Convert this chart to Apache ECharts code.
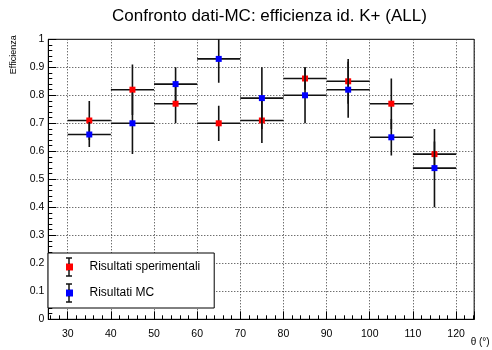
<!DOCTYPE html>
<html><head><meta charset="utf-8">
<script src="https://cdn.jsdelivr.net/npm/echarts@6/dist/echarts.min.js"></script>
<style>html,body{margin:0;padding:0;background:#fff}#c{width:492px;height:350px}</style>
</head><body><div id="c"></div>
<script>
// ---- data ----
const binCenters   = [35, 45, 55, 65, 75, 85, 95, 105, 115];
const binHalfWidth = [5, 5, 5, 5, 5, 5, 5, 5, 5];
const expValues = [0.71, 0.82, 0.77, 0.70, 0.71, 0.86, 0.85, 0.77, 0.59];
const expErrors = [0.07, 0.09, 0.07, 0.063, 0.08, 0.04, 0.08, 0.09, 0.045];
const mcValues  = [0.66, 0.70, 0.84, 0.93, 0.79, 0.80, 0.82, 0.65, 0.54];
const mcErrors  = [0.045, 0.11, 0.06, 0.085, 0.11, 0.10, 0.10, 0.065, 0.14];
const xTickLabels = ['30','40','50','60','70','80','90','100','110','120'];
const yTickLabels = ['0','0.1','0.2','0.3','0.4','0.5','0.6','0.7','0.8','0.9','1'];
const seriesNames = ['Risultati sperimentali', 'Risultati MC'];
const titleText = 'Confronto dati-MC: efficienza id. K+ (ALL)';

const FONT = 'Liberation Sans';
const chart = echarts.init(document.getElementById('c'), null, {renderer: 'canvas'});

function errData(vals, errs) {
  return binCenters.map((c, i) => [c, vals[i], binHalfWidth[i], errs[i]]);
}
function renderErr(params, api) {
  const x = api.value(0), y = api.value(1), ex = api.value(2), ey = api.value(3);
  const t = api.coord([x, y + ey]), b = api.coord([x, y - ey]);
  const l = api.coord([x - ex, y]), r = api.coord([x + ex, y]);
  const st = {stroke: '#111', lineWidth: 1.6};
  return {type: 'group', children: [
    {type: 'line', shape: {x1: t[0], y1: t[1], x2: b[0], y2: b[1]}, style: st},
    {type: 'line', shape: {x1: l[0], y1: l[1], x2: r[0], y2: r[1]}, style: st}
  ]};
}
const squarePath = 'path://M0,0L10,0L10,10L0,10Z';

const legendBeam = (cy) => [
  {type: 'line', z: 100, shape: {x1: 69, y1: cy - 9, x2: 69, y2: cy - 3}, style: {stroke: '#111', lineWidth: 1.5}},
  {type: 'line', z: 100, shape: {x1: 69, y1: cy + 3, x2: 69, y2: cy + 9}, style: {stroke: '#111', lineWidth: 1.5}},
  {type: 'line', z: 100, shape: {x1: 66, y1: cy - 9, x2: 72, y2: cy - 9}, style: {stroke: '#111', lineWidth: 1.5}},
  {type: 'line', z: 100, shape: {x1: 66, y1: cy + 9, x2: 72, y2: cy + 9}, style: {stroke: '#111', lineWidth: 1.5}}
];

const option = {
  animation: false,
  backgroundColor: '#fff',
  textStyle: {fontFamily: FONT},
  title: {
    text: titleText, left: 107, top: 3,
    textStyle: {fontFamily: FONT, fontSize: 17, fontWeight: 'normal', color: '#000'}
  },
  grid: {left: 48.3, right: 1.3, top: 39.3, bottom: 30.7, show: true, borderColor: '#000', borderWidth: 1, backgroundColor: '#fff'},
  legend: {
    orient: 'vertical', left: 48, top: 253,
    data: seriesNames.map(n => ({name: n, icon: squarePath})),
    itemWidth: 30, itemHeight: 7, itemGap: 12,
    padding: [7, 14, 8, 18],
    backgroundColor: '#fff', borderColor: '#000', borderWidth: 1, borderRadius: 0,
    textStyle: {fontFamily: FONT, fontSize: 12, color: '#000', lineHeight: 14}
  },
  graphic: legendBeam(267).concat(legendBeam(293)),
  xAxis: {
    type: 'value', min: 25.5, max: 124.2, splitNumber: 10,
    name: 'θ (°)', nameLocation: 'end', nameGap: 0,
    nameTextStyle: {fontFamily: FONT, fontSize: 10, color: '#000', align: 'right', verticalAlign: 'top', padding: [18, 0, 0, 0]},
    axisLine: {show: true, lineStyle: {color: '#000', width: 1}},
    axisTick: {show: true, inside: true, length: 8, lineStyle: {color: '#000'}},
    minorTick: {show: true, splitNumber: 5, length: 4, lineStyle: {color: '#000'}},
    axisLabel: {
      showMinLabel: false, showMaxLabel: false, margin: 9,
      fontFamily: FONT, fontSize: 10.5, color: '#000',
      formatter: v => xTickLabels.includes(String(v)) ? String(v) : ''
    },
    splitLine: {show: true, lineStyle: {color: '#333', type: [1, 2], width: 1}}
  },
  yAxis: {
    type: 'value', min: 0, max: 1, interval: 0.1,
    name: 'Efficienza', nameLocation: 'end', nameRotate: 90, nameGap: 4,
    nameTextStyle: {fontFamily: FONT, fontSize: 9, color: '#000', align: 'right', verticalAlign: 'bottom', padding: [0, 0, 30, 0]},
    axisLine: {show: true, lineStyle: {color: '#000', width: 1}},
    axisTick: {show: true, inside: true, length: 8, lineStyle: {color: '#000'}},
    minorTick: {show: true, splitNumber: 5, length: 4, lineStyle: {color: '#000'}},
    axisLabel: {
      margin: 4, fontFamily: FONT, fontSize: 10.5, color: '#000',
      formatter: (v, i) => yTickLabels[Math.round(v * 10)] ?? String(v)
    },
    splitLine: {show: true, lineStyle: {color: '#333', type: [1, 2], width: 1}}
  },
  series: [
    {type: 'custom', name: 'errExp', renderItem: renderErr, clip: true, data: errData(expValues, expErrors), encode: {x: 0, y: 1}, z: 2},
    {type: 'scatter', name: seriesNames[0], symbol: 'rect', symbolSize: 6, itemStyle: {color: '#ff0000', opacity: 1},
     data: binCenters.map((c, i) => [c, expValues[i]]), z: 3},
    {type: 'custom', name: 'errMC', renderItem: renderErr, clip: true, data: errData(mcValues, mcErrors), encode: {x: 0, y: 1}, z: 4},
    {type: 'scatter', name: seriesNames[1], symbol: 'rect', symbolSize: 6, itemStyle: {color: '#0000ff', opacity: 1},
     data: binCenters.map((c, i) => [c, mcValues[i]]), z: 5}
  ]
};
chart.setOption(option);
</script></body></html>
